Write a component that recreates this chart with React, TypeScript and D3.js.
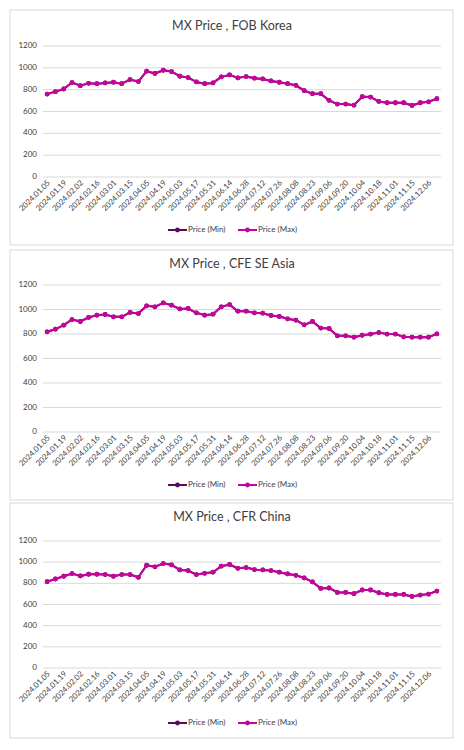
import React from "react";
import * as d3 from "d3";

const categories = [
  "2024.01.05","2024.01.12","2024.01.19","2024.01.26","2024.02.02","2024.02.09","2024.02.16","2024.02.23",
  "2024.03.01","2024.03.08","2024.03.15","2024.03.22","2024.04.05","2024.04.12","2024.04.19","2024.04.26",
  "2024.05.03","2024.05.10","2024.05.17","2024.05.24","2024.05.31","2024.06.07","2024.06.14","2024.06.21",
  "2024.06.28","2024.07.05","2024.07.12","2024.07.19","2024.07.26","2024.08.02","2024.08.08","2024.08.16",
  "2024.08.23","2024.08.30","2024.09.06","2024.09.13","2024.09.20","2024.09.27","2024.10.04","2024.10.11",
  "2024.10.18","2024.10.25","2024.11.01","2024.11.08","2024.11.15","2024.11.22","2024.12.06","2024.12.13",
];

const yTicks = [0, 200, 400, 600, 800, 1000, 1200];

const fobKoreaMax = [760,782,806,865,837,858,855,862,868,855,892,874,969,948,978,966,923,911,871,855,862,917,935,908,920,905,898,880,868,855,840,791,763,763,702,668,668,658,735,732,692,680,680,680,655,680,689,717];
const fobKoreaMin = [760,782,806,865,837,858,855,862,868,855,892,874,969,948,978,966,923,911,871,855,862,917,935,908,920,905,898,880,868,855,840,791,763,763,702,668,668,658,735,732,692,680,680,680,655,680,689,717];

const cfeSeAsiaMax = [818,839,872,918,902,935,954,959,940,940,976,967,1030,1022,1054,1035,1005,1008,973,954,962,1022,1040,986,986,973,970,951,943,924,913,875,902,848,845,785,785,774,790,799,812,799,799,777,774,774,774,801];
const cfeSeAsiaMin = [818,839,872,918,902,935,954,959,940,940,976,967,1030,1022,1054,1035,1005,1008,973,954,962,1022,1040,986,986,973,970,951,943,924,913,875,902,848,845,785,785,774,790,799,812,799,799,777,774,774,774,801];

const cfrChinaMax = [816,841,867,892,870,886,886,883,867,883,883,857,971,956,987,975,927,921,883,895,905,962,978,942,949,930,927,921,905,889,876,851,813,752,756,714,714,702,737,737,711,695,695,695,676,689,698,727];
const cfrChinaMin = [816,841,867,892,870,886,886,883,867,883,883,857,971,956,987,975,927,921,883,895,905,962,978,942,949,930,927,921,905,889,876,851,813,752,756,714,714,702,737,737,711,695,695,695,676,689,698,727];

const seriesNames = ["Price (Min)", "Price (Max)"];
const seriesColors = ["#5a0a5a", "#c4049a"];

const panels = [
  { title: "MX Price , FOB Korea", min: fobKoreaMin, max: fobKoreaMax, top: 10, bottom: 245, titleY: 27, y1200: 46, y0: 177, legendY: 230 },
  { title: "MX Price , CFE SE Asia", min: cfeSeAsiaMin, max: cfeSeAsiaMax, top: 250, bottom: 500, titleY: 265, y1200: 285, y0: 432, legendY: 485 },
  { title: "MX Price , CFR China", min: cfrChinaMin, max: cfrChinaMax, top: 503, bottom: 738, titleY: 518, y1200: 541, y0: 668, legendY: 723 },
];

const FONT = "Lato, 'Open Sans', sans-serif";

function Panel({ p }: { p: typeof panels[number] }) {
  const x = d3.scaleBand<string>().domain(categories).range([43, 441]);
  const y = d3.scaleLinear().domain([0, 1200]).range([p.y0, p.y1200]);
  const cx = (i: number) => (x(categories[i]) as number) + x.bandwidth() / 2;
  const line = d3.line<number>().x((_, i) => cx(i)).y((d) => y(d));
  const series = [p.min, p.max];
  return (
    <g>
      <rect x={10} y={p.top} width={443} height={p.bottom - p.top} fill="#fff" stroke="#d9d9d9" strokeWidth={1} />
      <text x={232} y={p.titleY} textAnchor="middle" dominantBaseline="middle" fontFamily={FONT} fontSize={12.5} fill="#404040">
        {p.title}
      </text>
      {yTicks.map((t) => (
        <g key={t}>
          <line x1={43} x2={441} y1={y(t)} y2={y(t)} stroke="#d9d9d9" strokeWidth={1} />
          <text x={37} y={y(t)} textAnchor="end" dominantBaseline="middle" fontFamily={FONT} fontSize={8} fill="#404040">
            {t}
          </text>
        </g>
      ))}
      {categories.map((c, i) =>
        i % 2 === 0 ? (
          <text key={c} transform={`translate(${cx(i) + 2},${p.y0 + 5}) rotate(-45)`} textAnchor="end" dominantBaseline="middle" fontFamily={FONT} fontSize={7.8} fill="#404040">
            {c}
          </text>
        ) : null
      )}
      {series.map((s, si) => (
        <g key={si}>
          <path d={line(s) as string} fill="none" stroke={seriesColors[si]} strokeWidth={2} strokeLinejoin="round" />
          {s.map((v, i) => (
            <circle key={i} cx={cx(i)} cy={y(v)} r={2.4} fill={seriesColors[si]} />
          ))}
        </g>
      ))}
      {seriesNames.map((n, si) => {
        const lx = si === 0 ? 168 : 238;
        return (
          <g key={n}>
            <line x1={lx} x2={lx + 19} y1={p.legendY} y2={p.legendY} stroke={seriesColors[si]} strokeWidth={2} />
            <circle cx={lx + 9.5} cy={p.legendY} r={2.4} fill={seriesColors[si]} />
            <text x={lx + 20} y={p.legendY} dominantBaseline="middle" fontFamily={FONT} fontSize={8} fill="#404040">
              {n}
            </text>
          </g>
        );
      })}
    </g>
  );
}

export default function App() {
  return (
    <svg width={464} height={750} style={{ position: "absolute", left: 0, top: 0, background: "#fff" }}>
      <rect width={464} height={750} fill="#fff" />
      {panels.map((p) => (
        <Panel key={p.title} p={p} />
      ))}
    </svg>
  );
}
